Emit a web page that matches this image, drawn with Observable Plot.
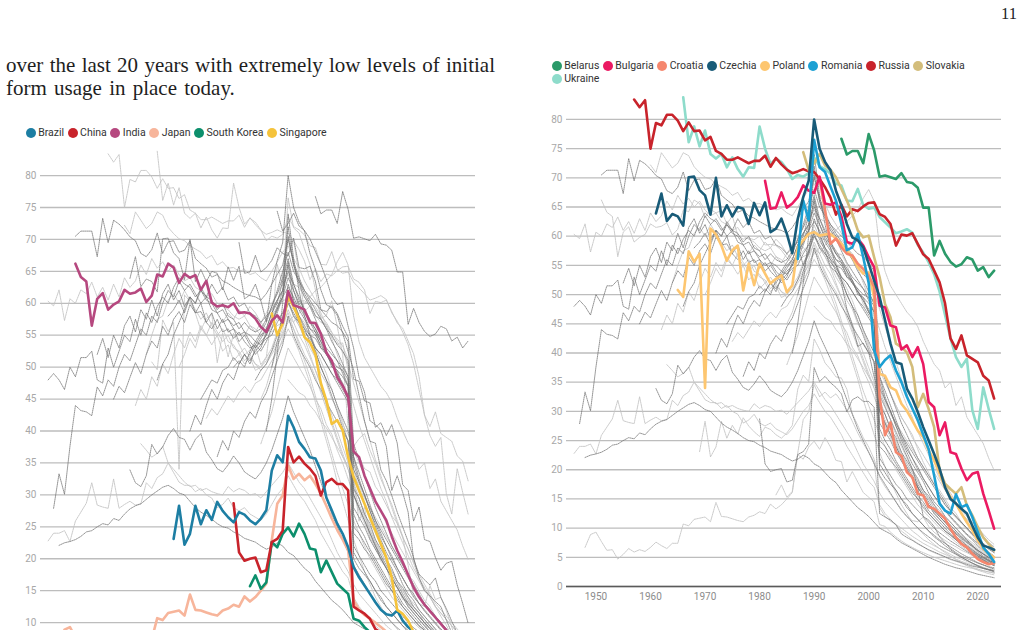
<!DOCTYPE html>
<html>
<head>
<meta charset="utf-8">
<script src="https://cdn.jsdelivr.net/npm/d3@7"></script>
<script src="https://cdn.jsdelivr.net/npm/@observablehq/plot@0.6"></script>
<style>
  html, body { margin: 0; padding: 0; background: #fff; width: 1027px; height: 630px; overflow: hidden; }
  #page { position: relative; width: 1027px; height: 630px; overflow: hidden; }
  .folio { position: absolute; left: 1001px; top: 6px; font-family: "Liberation Serif", serif; font-size: 16.5px; line-height: 16.5px; color: #222; }
  .para { position: absolute; left: 6px; top: 54px; width: 489px; font-family: "Liberation Serif", serif; font-size: 21px; line-height: 23px; color: #1e1e1e; }
  .para span { display: block; white-space: nowrap; }
  .para .j { text-align: justify; text-align-last: justify; white-space: normal; }
  .para .last { word-spacing: 2px; }
  .legend { position: absolute; display: flex; flex-wrap: wrap; font-family: Roboto, sans-serif; font-size: 10.5px; color: #333; }
  .legend .item { display: flex; align-items: center; height: 13.3px; margin-right: 3.5px; }
  .legend .dot { width: 10px; height: 10px; border-radius: 50%; margin-right: 2.5px; }
  .chart { position: absolute; }
  .chart svg { overflow: hidden; }
</style>
</head>
<body>
<div id="page">
  <div class="folio">11</div>
  <div class="para">
    <span class="j">over the last 20 years with extremely low levels of initial</span>
    <span class="last">form usage in place today.</span>
  </div>
  <div class="legend" id="legend-left" style="left:25.7px; top:126px; width:470px"></div>
  <div class="chart" id="chart-left" style="left:0; top:143px"></div>
  <div class="legend" id="legend-right" style="left:551.7px; top:59px; width:450px"></div>
  <div class="chart" id="chart-right" style="left:520px; top:88px"></div>
</div>
<script>
// ---- yearly shares (%) by country: first year + consecutive yearly values ----
const brazil     = { start: 1969, values: [23.1, 28.3, 22.2, 23.9, 28.3, 25.4, 27.6, 26.1, 28.9, 27.5, 26.5, 25.7, 27.3, 26.9, 26.0, 25.4, 26.3, 27.6, 33.8, 36.2, 35.1, 42.4, 40.6, 38.3, 37.2, 35.9, 35.7, 33.8, 29.6, 27.6, 25.5, 23.9, 21.8, 18.7, 17.1, 15.8, 14.5, 13.2, 12.0, 11.3, 11.1, 11.9, 10.3, 9.3, 8.6, 7.9, 7.3, 6.8, 6.2, 5.8, 5.3, 4.9, 4.5, 4.2, 3.9] };
const china      = { start: 1980, values: [28.7, 21.0, 19.7, 20.0, 20.2, 17.9, 18.2, 22.6, 23.1, 24.4, 37.5, 35.1, 36.0, 34.9, 34.1, 33.0, 29.9, 32.0, 32.5, 31.7, 31.7, 30.7, 12.5, 11.9, 11.4, 10.6, 9.0, 8.4, 7.9, 7.3, 6.8, 6.3, 5.9, 5.5, 5.1, 4.7, 4.4, 4.1, 3.8, 3.5, 3.3, 3.1, 2.9, 2.7] };
const india      = { start: 1951, values: [66.2, 64.1, 63.4, 56.5, 60.7, 61.6, 59.0, 59.8, 60.3, 62.1, 61.5, 61.7, 62.3, 60.2, 61.2, 64.5, 64.2, 66.2, 65.6, 63.2, 64.6, 64.0, 64.4, 62.1, 63.5, 60.1, 59.5, 59.7, 59.4, 60.0, 58.5, 58.6, 58.4, 57.6, 56.3, 55.5, 57.3, 58.1, 57.0, 61.9, 59.7, 59.4, 59.0, 57.0, 56.9, 55.2, 52.3, 51.0, 48.4, 47.1, 45.3, 36.8, 35.9, 33.0, 31.0, 29.0, 27.5, 26.0, 23.5, 21.3, 19.5, 17.5, 15.5, 14.0, 12.8, 11.8, 10.8, 9.8, 8.8, 7.5, 6.5, 5.5, 4.8] };
const japan      = { start: 1948, values: [6.7, 8.9, 9.3, 7.7, 6.2, 6.3, 4.7, 5.5, 6.5, 5.9, 6.3, 6.0, 6.7, 7.6, 7.0, 6.5, 7.4, 7.4, 10.7, 10.4, 11.5, 11.7, 11.9, 11.1, 14.4, 12.0, 11.9, 11.6, 11.3, 11.1, 11.9, 12.2, 12.8, 12.5, 14.1, 13.3, 14.0, 15.0, 16.1, 22.9, 28.6, 29.9, 34.6, 32.5, 33.3, 32.3, 33.0, 31.7, 30.2, 28.3, 26.3, 24.5, 23.0, 21.3, 13.5, 12.0, 11.2, 10.6, 10.0, 9.3, 8.6, 8.0, 7.4, 6.9, 6.4, 5.9, 5.5, 5.1, 4.7, 4.3, 4.0, 3.7, 3.4, 3.1, 2.9, 2.7] };
const southKorea = { start: 1983, values: [15.7, 17.4, 15.3, 16.3, 22.6, 21.8, 23.9, 24.9, 23.5, 25.5, 23.9, 21.6, 21.4, 17.9, 19.7, 17.9, 16.1, 15.3, 14.5, 10.6, 10.3, 9.3, 8.5, 7.8, 7.2, 6.7, 6.2, 5.8, 5.4, 5.0, 4.7, 4.4, 4.1, 3.8, 3.5, 3.3, 3.1, 2.9, 2.7, 2.5, 2.3] };
const singapore  = { start: 1987, values: [58.4, 55.0, 56.8, 61.0, 59.5, 57.5, 54.7, 53.9, 52.0, 47.5, 44.8, 41.1, 41.7, 40.1, 35.9, 32.8, 30.7, 28.6, 26.5, 24.4, 22.3, 20.2, 17.0, 12.0, 11.4, 10.3, 8.5, 7.5, 6.5, 5.8, 5.2, 4.8, 4.4, 4.0, 3.7, 3.4, 3.2] };

const belarus    = { start: 1995, values: [76.7, 74.0, 74.6, 74.6, 72.5, 77.5, 74.7, 70.2, 70.4, 70.1, 69.8, 70.8, 69.3, 69.1, 68.3, 64.9, 64.9, 56.7, 59.2, 57.0, 55.6, 54.8, 55.2, 56.4, 56.0, 54.1, 54.7, 53.0, 54.1] };
const bulgaria   = { start: 1981, values: [69.5, 64.7, 64.9, 67.5, 64.9, 65.6, 66.7, 68.7, 67.8, 67.4, 70.2, 65.6, 65.4, 65.8, 63.4, 59.0, 58.7, 59.6, 58.4, 56.4, 54.7, 48.1, 47.8, 44.7, 44.4, 40.6, 41.3, 39.3, 41.0, 38.1, 31.6, 30.7, 25.9, 28.1, 23.0, 22.7, 20.2, 18.2, 19.3, 19.6, 15.9, 13.0, 9.9] };
const croatia    = { start: 1991, values: [69.8, 64.5, 58.7, 59.6, 58.1, 57.0, 56.7, 55.3, 54.4, 53.3, 51.3, 32.5, 25.9, 28.1, 23.0, 22.4, 19.6, 18.7, 15.9, 15.6, 13.6, 13.3, 12.5, 11.6, 9.9, 8.4, 7.3, 6.7, 5.6, 4.7, 4.2, 3.8, 4.0] };
const czechia    = { start: 1961, values: [63.9, 67.3, 62.6, 63.8, 63.4, 61.8, 70.1, 70.2, 67.9, 67.0, 63.7, 70.0, 63.4, 65.3, 63.4, 65.0, 64.7, 62.1, 65.7, 63.6, 65.8, 60.7, 61.3, 63.0, 60.4, 57.1, 63.0, 66.7, 69.5, 80.0, 75.0, 72.7, 71.3, 67.8, 65.3, 62.1, 59.8, 59.3, 58.1, 55.3, 52.4, 49.6, 45.6, 41.6, 38.4, 38.1, 33.9, 32.2, 29.9, 27.3, 25.0, 22.7, 20.2, 17.0, 15.0, 14.2, 13.3, 12.5, 10.4, 8.4, 7.0, 6.7, 6.3] };
const poland     = { start: 1965, values: [50.8, 49.6, 57.4, 55.6, 57.0, 34.0, 61.3, 60.3, 58.4, 55.8, 57.6, 58.4, 50.7, 55.3, 51.6, 55.3, 53.6, 51.9, 52.7, 53.3, 50.4, 51.6, 58.1, 59.3, 60.4, 60.7, 60.1, 60.3, 60.4, 59.6, 58.7, 57.6, 56.4, 54.7, 53.6, 53.8, 49.5, 36.4, 36.1, 34.1, 33.6, 31.3, 30.1, 28.4, 26.7, 25.6, 23.3, 21.6, 19.3, 17.0, 15.3, 14.2, 12.5, 11.0, 9.6, 7.9, 6.5, 5.6, 5.0] };
const romania    = { start: 1987, values: [56.1, 66.1, 62.7, 76.5, 71.8, 71.0, 68.5, 66.1, 62.1, 57.6, 58.1, 60.4, 56.4, 52.0, 40.5, 37.6, 38.8, 39.6, 37.0, 35.0, 32.5, 30.5, 28.5, 26.0, 23.5, 19.0, 14.2, 13.0, 12.5, 15.8, 13.6, 14.0, 11.9, 9.3, 6.7, 5.6, 4.2] };
const russia     = { start: 1957, values: [83.4, 82.1, 83.3, 75.0, 79.4, 79.0, 80.8, 80.8, 79.8, 78.0, 79.5, 78.0, 78.1, 76.4, 77.0, 74.6, 74.1, 73.1, 73.1, 73.5, 73.0, 72.5, 72.9, 72.9, 73.8, 71.9, 73.4, 72.3, 71.4, 70.8, 71.1, 71.5, 71.1, 71.0, 69.8, 68.4, 66.6, 63.7, 65.4, 63.4, 64.6, 64.3, 65.1, 65.7, 65.8, 63.8, 63.3, 62.1, 58.4, 60.3, 60.1, 60.5, 58.7, 56.9, 56.1, 54.1, 52.1, 48.5, 42.5, 40.7, 43.0, 39.6, 39.0, 38.4, 36.1, 35.3, 32.2] };
const slovakia   = { start: 1988, values: [74.4, 71.3, 72.5, 74.1, 72.1, 71.4, 70.1, 68.1, 66.1, 63.8, 61.0, 59.8, 60.1, 56.4, 53.0, 48.4, 46.1, 41.6, 41.0, 40.1, 37.6, 30.7, 33.0, 30.4, 27.3, 19.9, 17.6, 16.7, 15.9, 17.0, 13.9, 12.2, 10.2, 8.4, 7.3, 6.2] };
const ukraine    = { start: 1966, values: [83.8, 76.1, 78.8, 75.4, 78.1, 74.1, 73.3, 74.1, 71.8, 73.5, 71.5, 70.2, 71.8, 71.7, 78.8, 75.0, 72.4, 73.3, 72.7, 71.5, 69.8, 70.5, 70.2, 70.8, 73.5, 72.0, 71.5, 70.7, 69.0, 68.7, 66.1, 66.0, 68.1, 65.3, 64.7, 64.9, 63.3, 62.4, 61.5, 60.5, 60.8, 61.2, 60.6, 58.5, 57.2, 55.5, 53.5, 50.5, 46.5, 42.5, 39.3, 37.6, 39.0, 30.2, 27.0, 34.1, 30.4, 27.0] };

// remaining countries, drawn only as grey context
const grey01 = { start: 1946, values: [60.3, 59.6, 62.1, 57.3, 60.7, 60.0, 62.1, 61.5, 63.3, 61.0, 62.5, 60.5, 63.0, 61.0, 64.0, 62.5, 63.5, 66.0, 64.5, 67.0, 65.5, 66.5, 65.0, 66.0, 64.5, 63.5, 64.0, 62.5, 62.0, 61.0, 61.5, 60.0, 59.5, 59.0, 58.0, 57.5, 58.0, 56.5, 56.0, 55.0, 55.5, 56.0, 57.5, 58.5, 60.0, 59.0, 58.0, 57.0, 55.5, 53.0, 51.0, 49.0, 46.5, 44.0, 41.5, 38.0, 34.0, 31.0, 28.5, 26.0, 24.0, 22.0, 20.0, 18.0, 16.5, 15.0, 13.5, 12.0, 11.0, 10.0, 9.0, 8.0, 7.2, 6.5, 5.8, 5.0, 4.5, 4.0] };
const grey02 = { start: 1946, values: [48.0, 49.0, 48.0, 46.5, 50.0, 48.5, 51.5, 51.5, 52.5, 48.0, 47.5, 53.0, 50.0, 52.5, 55.0, 54.0, 57.5, 55.0, 58.5, 57.0, 59.5, 61.0, 60.0, 62.5, 64.0, 63.0, 62.5, 61.0, 62.0, 60.5, 60.0, 58.5, 59.0, 57.5, 56.5, 57.0, 55.5, 55.0, 54.0, 53.5, 54.5, 55.0, 57.0, 58.5, 60.5, 58.0, 57.0, 55.5, 54.5, 53.0, 52.0, 50.5, 49.0, 47.5, 46.0, 44.5, 30.0, 28.0, 26.0, 24.0, 22.0, 20.5, 19.0, 17.5, 16.0, 14.5, 13.0, 12.0, 11.0, 10.0, 9.0, 8.2, 7.5, 6.8, 6.0, 5.2, 4.6, 4.0] };
const grey03 = { start: 1947, values: [27.9, 33.3, 30.1, 37.6, 44.0, 43.2, 43.0, 42.4, 46.9, 45.5, 48.0, 47.0, 50.0, 52.0, 51.0, 53.5, 56.0, 55.0, 58.0, 57.0, 60.0, 62.0, 61.0, 63.5, 62.0, 63.0, 61.5, 60.0, 61.0, 59.0, 58.5, 57.0, 57.5, 56.0, 55.0, 55.5, 54.0, 53.0, 54.0, 55.0, 57.0, 59.0, 62.0, 66.0, 60.0, 58.0, 56.0, 54.0, 52.5, 50.0, 48.0, 46.5, 44.0, 42.0, 40.0, 36.0, 32.5, 30.0, 27.5, 25.0, 23.0, 21.0, 19.5, 18.0, 16.0, 14.5, 13.5, 12.0, 11.0, 10.0, 9.0, 8.0, 7.0, 6.2, 5.5, 4.8, 4.2] };
const grey04 = { start: 1948, values: [22.1, 22.5, 22.7, 23.0, 23.5, 24.2, 24.4, 25.0, 25.5, 25.3, 26.3, 26.0, 27.0, 27.8, 28.3, 28.6, 29.3, 30.0, 30.6, 31.2, 31.5, 31.0, 30.3, 30.0, 29.0, 28.0, 27.3, 26.8, 26.2, 25.5, 25.0, 24.8, 24.2, 23.8, 23.2, 22.9, 22.6, 22.0, 21.5, 21.8, 22.5, 22.0, 21.0, 20.5, 19.5, 18.5, 17.8, 16.5, 15.5, 14.5, 13.5, 12.8, 12.0, 11.0, 10.0, 9.5, 9.0, 8.2, 7.5, 7.0, 6.5, 6.0, 5.5, 5.0, 4.6, 4.2, 3.8, 3.5, 3.2, 3.0, 2.7, 2.4, 2.1, 1.9, 1.7, 1.5] };
const grey05 = { start: 1946, values: [22.8, 24.0, 24.0, 24.4, 22.7, 25.9, 27.3, 28.7, 31.9, 28.4, 28.1, 27.9, 32.5, 27.9, 28.5, 29.0, 28.4, 28.6, 31.9, 31.0, 32.7, 33.3, 35.0, 33.5, 32.0, 31.5, 31.5, 30.5, 31.0, 30.0, 29.5, 28.0, 28.5, 29.5, 28.0, 27.5, 28.0, 27.0, 26.5, 26.0, 27.0, 28.5, 30.0, 31.0, 33.0, 31.5, 30.0, 29.0, 27.5, 26.0, 24.0, 22.5, 21.0, 19.5, 18.0, 17.0, 14.0, 12.5, 11.5, 10.5, 9.5, 8.8, 8.0, 7.4, 6.8, 6.2, 5.8, 5.4, 5.0, 4.6, 4.3, 4.0, 3.6, 3.3, 3.0, 2.7, 2.5, 2.3] };
const grey06 = { start: 1951, values: [70.5, 71.3, 71.3, 71.3, 67.3, 73.3, 69.5, 73.0, 72.4, 71.5, 70.4, 69.8, 67.8, 67.3, 68.4, 71.0, 67.8, 69.6, 69.8, 68.0, 68.3, 69.8, 67.0, 66.2, 65.5, 64.1, 64.5, 63.5, 63.1, 62.5, 62.0, 61.5, 61.2, 61.0, 60.5, 61.5, 63.0, 64.5, 66.0, 70.0, 66.5, 64.0, 62.0, 60.5, 59.0, 57.5, 56.0, 54.0, 52.5, 50.5, 48.5, 36.0, 33.5, 31.0, 28.5, 26.0, 24.0, 22.0, 20.5, 18.5, 17.0, 15.5, 14.0, 13.0, 11.8, 10.8, 9.8, 8.8, 8.0, 7.0, 6.2, 5.5, 5.0] };
const grey07 = { start: 1960, values: [72.2, 70.9, 74.3, 73.0, 71.7, 72.5, 74.3, 73.8, 71.9, 70.9, 70.1, 69.8, 69.0, 68.5, 68.0, 67.0, 67.5, 66.0, 66.5, 65.5, 65.6, 65.0, 65.3, 64.5, 64.8, 64.0, 63.5, 65.0, 66.5, 68.0, 69.0, 67.0, 65.5, 63.5, 62.0, 60.5, 58.5, 56.5, 54.5, 52.0, 49.5, 47.0, 44.0, 41.0, 38.5, 36.0, 33.5, 31.0, 29.0, 26.5, 24.5, 22.5, 20.5, 18.5, 17.0, 15.5, 14.0, 12.5, 11.5, 10.5, 9.5, 8.5, 7.5, 6.8] };
const grey08 = { start: 1961, values: [33.9, 31.9, 31.3, 33.0, 37.9, 36.4, 37.5, 39.3, 40.4, 39.0, 38.7, 37.0, 38.7, 39.6, 36.7, 35.5, 34.1, 33.6, 34.7, 36.1, 35.0, 33.6, 33.0, 32.5, 33.5, 35.0, 37.0, 39.5, 42.0, 45.5, 43.0, 41.0, 39.0, 37.0, 34.5, 32.0, 29.5, 27.0, 25.0, 23.0, 21.0, 19.0, 17.5, 16.0, 14.5, 13.0, 12.0, 11.0, 10.0, 9.2, 8.5, 7.8, 7.0, 6.5, 6.0, 5.5, 5.0, 4.5, 4.0, 3.6, 3.2, 2.9, 2.6] };
const grey09 = { start: 1963, values: [38.0, 37.0, 35.9, 36.5, 37.6, 35.0, 34.0, 33.0, 32.0, 31.3, 31.5, 30.7, 31.0, 30.5, 30.2, 30.0, 31.3, 30.5, 31.0, 30.7, 30.0, 30.2, 29.5, 30.5, 31.5, 32.5, 33.5, 35.0, 33.5, 32.0, 31.0, 29.5, 28.0, 26.5, 25.0, 23.0, 21.0, 19.5, 18.0, 16.0, 14.5, 13.5, 12.5, 11.5, 10.5, 9.5, 8.8, 8.0, 7.5, 7.0, 6.5, 6.0, 5.5, 5.0, 4.7, 4.3, 4.0, 3.6, 3.3, 3.0, 2.8] };
const grey10 = { start: 1958, values: [45.0, 47.0, 46.0, 48.4, 50.7, 49.0, 52.0, 54.1, 53.0, 56.4, 55.0, 57.5, 58.7, 57.0, 59.8, 58.5, 58.7, 57.0, 56.0, 57.5, 55.5, 56.0, 54.5, 55.5, 54.0, 53.0, 53.5, 52.5, 54.0, 56.0, 58.5, 61.0, 64.0, 62.0, 60.0, 58.5, 57.0, 55.5, 54.0, 52.0, 50.5, 49.0, 47.5, 45.0, 25.0, 24.0, 22.5, 21.0, 19.5, 18.0, 16.5, 15.0, 14.0, 12.5, 11.5, 10.5, 9.5, 8.8, 8.0, 7.2, 6.5, 5.8, 5.2, 4.6, 4.0, 3.6] };
const grey11 = { start: 1964, values: [52.0, 55.0, 57.5, 58.0, 60.5, 61.5, 60.0, 62.0, 60.5, 59.0, 57.5, 58.5, 56.5, 55.0, 56.0, 54.0, 53.5, 52.0, 53.0, 51.5, 50.5, 50.0, 51.0, 52.5, 54.0, 56.0, 59.0, 57.0, 55.0, 53.5, 51.5, 49.5, 47.5, 45.0, 42.5, 40.0, 37.5, 35.0, 32.0, 29.5, 27.0, 24.5, 22.5, 20.5, 18.5, 17.0, 15.5, 14.0, 12.8, 11.5, 10.5, 9.5, 8.6, 7.8, 7.0, 6.3, 5.6, 5.0, 4.4, 3.9] };
const grey12 = { start: 1966, values: [48.0, 50.5, 52.0, 55.0, 57.0, 59.0, 61.0, 60.0, 62.5, 61.0, 60.5, 59.0, 60.0, 58.0, 57.5, 56.0, 57.0, 56.0, 55.5, 56.0, 57.5, 59.5, 61.5, 64.0, 72.0, 66.0, 63.0, 61.0, 59.5, 57.5, 55.5, 54.0, 52.5, 51.0, 49.0, 47.0, 28.0, 26.5, 25.0, 23.0, 21.5, 20.0, 18.5, 17.0, 15.5, 14.0, 13.0, 12.0, 11.0, 10.0, 9.2, 8.4, 7.6, 6.9, 6.2, 5.6, 5.0, 4.5] };
const grey13 = { start: 1970, values: [50.0, 52.0, 54.5, 53.0, 56.0, 55.0, 57.0, 55.5, 54.0, 55.0, 53.0, 52.5, 51.0, 52.0, 50.5, 49.5, 50.5, 52.0, 53.5, 55.0, 57.5, 56.0, 54.0, 52.0, 50.5, 48.5, 46.0, 43.5, 41.0, 38.5, 36.0, 34.0, 31.5, 29.5, 27.0, 25.0, 23.0, 21.0, 19.5, 18.0, 16.5, 15.0, 14.0, 13.0, 12.0, 11.0, 10.0, 9.0, 8.2, 7.5, 6.8, 6.0, 5.4, 4.8] };
const grey14 = { start: 1974, values: [45.0, 46.5, 48.0, 47.5, 49.5, 50.0, 51.5, 50.5, 52.0, 51.0, 52.5, 53.5, 55.0, 57.0, 59.0, 61.0, 62.5, 61.0, 59.0, 57.5, 56.0, 55.0, 53.5, 52.0, 50.5, 49.5, 48.5, 47.0, 22.0, 20.5, 19.0, 17.5, 16.5, 15.0, 14.0, 13.0, 12.0, 11.0, 10.0, 9.2, 8.5, 7.8, 7.2, 6.6, 6.0, 5.5, 5.0, 4.5, 4.0, 3.6] };
const grey15 = { start: 1980, values: [50.0, 51.0, 50.0, 52.5, 54.0, 55.5, 57.0, 59.5, 62.0, 65.0, 68.0, 65.0, 63.5, 62.0, 61.0, 60.0, 59.0, 58.0, 57.0, 56.5, 55.5, 54.0, 38.0, 35.5, 33.0, 30.5, 28.0, 26.0, 24.0, 22.0, 20.5, 19.0, 17.5, 16.0, 14.5, 13.0, 12.0, 11.0, 10.0, 9.0, 8.0, 7.2, 6.4, 5.8] };
const grey16 = { start: 1985, values: [45.0, 47.0, 50.0, 53.0, 55.5, 57.0, 58.0, 56.5, 54.5, 52.0, 49.5, 47.0, 44.0, 41.5, 39.0, 36.5, 34.0, 31.0, 28.5, 26.5, 24.5, 22.5, 21.0, 19.5, 18.0, 16.5, 15.0, 13.5, 12.5, 11.5, 10.5, 9.5, 8.7, 8.0, 7.2, 6.5, 5.8, 5.2, 4.6] };
const grey17 = { start: 1986, values: [40.0, 45.0, 52.0, 60.0, 74.0, 67.0, 62.0, 58.0, 55.0, 52.5, 50.0, 48.0, 45.5, 43.0, 40.5, 38.5, 30.0, 28.0, 26.0, 24.0, 22.0, 20.0, 18.5, 17.0, 15.5, 14.0, 12.5, 11.5, 10.5, 9.5, 8.5, 7.8, 7.0, 6.3, 5.6, 5.0, 4.4, 3.9] };
const grey18 = { start: 1982, values: [55.0, 56.5, 55.5, 57.0, 58.5, 60.0, 61.5, 63.0, 64.5, 63.0, 62.5, 61.0, 60.0, 59.5, 58.0, 57.0, 55.5, 54.0, 52.5, 50.5, 47.5, 44.5, 41.5, 38.5, 35.5, 33.0, 30.5, 28.0, 25.5, 23.5, 21.5, 19.5, 17.5, 16.0, 14.5, 13.0, 12.0, 11.0, 10.0, 9.0, 8.0, 7.2] };
const grey19 = { start: 1988, values: [52.0, 54.5, 58.0, 57.0, 58.5, 60.0, 61.0, 62.0, 62.5, 63.5, 64.5, 66.5, 68.0, 66.0, 58.0, 54.0, 51.5, 50.0, 48.5, 47.0, 46.0, 44.5, 42.0, 40.0, 38.1, 37.0, 34.0, 35.0, 31.0, 32.5, 29.0, 27.5, 26.0, 24.5, 22.0, 19.9] };
const grey20 = { start: 1984, values: [48.0, 49.5, 50.5, 52.5, 55.0, 57.5, 60.0, 58.5, 57.0, 56.0, 55.0, 54.5, 53.0, 52.0, 51.0, 50.0, 49.5, 48.0, 20.0, 18.5, 17.5, 16.5, 15.0, 14.0, 12.5, 11.5, 10.5, 9.5, 8.8, 8.0, 7.4, 6.8, 6.2, 5.6, 5.1, 4.6, 4.1, 3.7, 3.3, 3.0] };
const grey21 = { start: 1975, values: [42.0, 43.5, 42.5, 44.0, 45.5, 44.5, 46.0, 47.0, 46.0, 47.5, 48.0, 49.5, 51.0, 52.5, 54.0, 56.0, 54.5, 52.5, 50.0, 47.5, 44.5, 41.5, 38.5, 35.5, 32.0, 29.0, 26.0, 23.0, 20.5, 18.0, 16.0, 14.0, 12.5, 11.0, 10.0, 9.0, 8.0, 7.2, 6.5, 5.8, 5.2, 4.6, 4.1, 3.6, 3.2, 2.8, 2.5, 2.2, 2.0] };
const grey22 = { start: 1968, values: [58.0, 59.0, 60.5, 58.5, 61.0, 60.0, 62.0, 61.0, 63.0, 61.5, 62.5, 60.5, 61.0, 59.5, 60.0, 58.5, 58.0, 57.0, 58.0, 59.0, 60.5, 62.0, 65.0, 63.0, 61.0, 59.0, 57.5, 56.0, 54.0, 52.5, 50.5, 49.0, 47.0, 45.5, 34.0, 32.0, 30.0, 28.0, 26.0, 24.5, 23.0, 21.5, 20.0, 18.5, 17.0, 15.5, 14.0, 13.0, 12.0, 11.0, 10.0, 9.0, 8.2, 7.4, 6.6, 6.0] };
const grey23 = { start: 1978, values: [57.0, 58.5, 57.5, 59.0, 58.0, 59.5, 58.5, 57.0, 56.0, 55.5, 56.5, 57.0, 58.5, 56.0, 53.5, 51.0, 48.5, 45.5, 42.5, 39.5, 36.5, 33.5, 31.0, 28.5, 26.0, 24.0, 22.0, 20.0, 18.5, 17.0, 15.5, 14.0, 13.0, 12.0, 11.0, 10.0, 9.2, 8.4, 7.6, 6.9, 6.2, 5.6, 5.0, 4.5, 4.0, 3.6] };
const grey24 = { start: 1955, values: [52.0, 54.5, 51.5, 55.0, 53.0, 56.5, 58.0, 55.5, 59.0, 57.5, 60.5, 58.0, 61.5, 63.0, 60.5, 62.0, 59.5, 61.0, 58.5, 60.0, 57.0, 58.5, 56.0, 57.5, 55.5, 56.0, 54.0, 55.0, 53.5, 52.0, 53.0, 55.5, 57.0, 59.5, 61.0, 66.5, 62.0, 59.5, 58.0, 56.0, 55.5, 53.0, 52.5, 50.0, 49.5, 47.0, 45.5, 31.0, 29.5, 27.0, 25.5, 23.0, 21.5, 20.0, 18.5, 16.5, 15.5, 14.0, 12.5, 11.5, 10.5, 9.5, 8.5, 7.8, 7.0, 6.2, 5.6, 5.0, 4.4] };
const grey25 = { start: 1962, values: [44.0, 46.5, 45.0, 48.5, 47.0, 50.5, 49.0, 52.0, 54.5, 53.0, 55.5, 54.0, 56.5, 55.0, 53.5, 55.0, 52.5, 53.5, 51.0, 52.0, 50.5, 51.5, 49.5, 50.0, 51.5, 53.0, 55.5, 57.0, 60.0, 58.0, 56.5, 55.0, 53.0, 51.5, 49.0, 47.5, 45.0, 43.5, 41.0, 39.5, 37.0, 35.0, 33.0, 31.0, 29.0, 27.5, 25.5, 24.0, 22.5, 21.0, 19.5, 18.0, 16.5, 15.0, 14.0, 12.5, 11.5, 10.5, 9.5, 8.5, 7.5, 6.8] };
const grey26 = { start: 1972, values: [40.0, 42.5, 41.0, 44.0, 46.5, 45.0, 47.5, 49.0, 48.0, 50.5, 52.0, 50.5, 53.0, 54.5, 56.0, 58.5, 60.0, 63.5, 67.0, 63.0, 60.5, 59.0, 57.0, 56.0, 54.5, 53.0, 52.0, 51.0, 50.0, 48.5, 24.0, 23.0, 21.5, 20.5, 19.0, 17.5, 16.0, 15.0, 13.5, 12.5, 11.5, 10.5, 9.5, 8.8, 8.0, 7.2, 6.5, 5.9, 5.3, 4.8, 4.3, 3.8] };
const grey27 = { start: 1985, values: [38.0, 40.5, 43.0, 46.5, 50.0, 53.0, 51.5, 50.0, 48.5, 47.0, 45.0, 43.5, 41.0, 39.5, 37.0, 35.0, 32.5, 30.0, 27.5, 25.5, 23.5, 21.5, 20.0, 18.5, 17.0, 15.5, 14.0, 12.5, 11.5, 10.5, 9.5, 8.5, 7.5, 6.7, 6.0, 5.3, 4.7, 4.1, 3.6] };
const grey28 = { start: 1983, values: [52.0, 53.5, 55.0, 56.0, 58.5, 60.5, 62.0, 70.5, 66.0, 63.5, 61.5, 60.0, 58.0, 57.5, 56.0, 55.0, 53.5, 52.5, 51.0, 35.0, 32.0, 30.0, 27.5, 25.5, 23.5, 22.0, 20.0, 18.5, 17.0, 15.5, 14.5, 13.0, 12.0, 11.0, 10.0, 9.0, 8.2, 7.4, 6.6, 5.9, 5.2] };
const grey29 = { start: 1987, values: [50.0, 54.0, 57.5, 63.0, 60.5, 58.0, 56.5, 55.0, 53.0, 52.0, 50.5, 49.0, 48.0, 46.5, 45.0, 27.0, 25.0, 23.5, 21.5, 20.0, 18.5, 17.0, 15.5, 14.5, 13.0, 12.0, 11.0, 10.0, 9.0, 8.2, 7.5, 6.8, 6.1, 5.5, 5.0, 4.5, 4.0] };
const grey30 = { start: 1990, values: [48.0, 47.0, 46.0, 45.5, 44.0, 43.0, 41.5, 40.5, 39.0, 37.5, 36.0, 34.5, 33.0, 31.5, 29.5, 28.0, 26.5, 25.0, 23.5, 22.0, 20.5, 19.0, 17.5, 16.5, 15.0, 13.5, 12.5, 11.0, 10.0, 9.0, 8.0, 7.2, 6.5, 5.8] };
const grey31 = { start: 1977, values: [36.0, 38.5, 37.0, 40.0, 39.0, 41.5, 43.0, 42.0, 44.5, 46.0, 48.5, 51.0, 53.5, 58.0, 55.0, 53.0, 51.5, 50.0, 48.0, 46.5, 44.5, 43.0, 41.5, 40.0, 38.5, 21.0, 19.5, 18.0, 16.5, 15.0, 13.5, 12.5, 11.5, 10.5, 9.5, 8.5, 7.8, 7.0, 6.3, 5.6, 5.0, 4.5, 4.0, 3.5, 3.1, 2.8, 2.5] };

// axis ticks
const yTicks = d3.range(0, 81, 5);
const xTicks = d3.range(1950, 2021, 10);

// ---- registry, colours and grouping ----
const named = {
  "Brazil": brazil, "China": china, "India": india, "Japan": japan, "South Korea": southKorea, "Singapore": singapore,
  "Belarus": belarus, "Bulgaria": bulgaria, "Croatia": croatia, "Czechia": czechia, "Poland": poland,
  "Romania": romania, "Russia": russia, "Slovakia": slovakia, "Ukraine": ukraine
};
const context = { grey01, grey02, grey03, grey04, grey05, grey06, grey07, grey08, grey09, grey10, grey11, grey12,
  grey13, grey14, grey15, grey16, grey17, grey18, grey19, grey20, grey21, grey22, grey23, grey24, grey25, grey26,
  grey27, grey28, grey29, grey30, grey31 };
const allSeries = { ...named, ...context };

const colors = {
  "Brazil": "#1d7ea3", "China": "#c8232b", "India": "#b6487f", "Japan": "#f7b59b", "South Korea": "#0c8f6c", "Singapore": "#f5c33b",
  "Belarus": "#2b9a69", "Bulgaria": "#eb1a62", "Croatia": "#f5876e", "Czechia": "#185b78", "Poland": "#fdc670",
  "Romania": "#1ca0d3", "Russia": "#c8232b", "Slovakia": "#d3bd7b", "Ukraine": "#8edccb"
};
// series drawn in the paler grey when not highlighted
const paleGrey = new Set(["Russia", "Ukraine", "India", "Japan", "Brazil", "South Korea", "Croatia", "Romania", "Poland",
  "grey01", "grey05", "grey07", "grey09", "grey11", "grey13", "grey16", "grey18", "grey19", "grey21", "grey23",
  "grey25", "grey27", "grey30"]);

const leftLegend  = ["Brazil", "China", "India", "Japan", "South Korea", "Singapore"];
const leftOrder   = ["Japan", "South Korea", "China", "Brazil", "Singapore", "India"];
const rightLegend = ["Belarus", "Bulgaria", "Croatia", "Czechia", "Poland", "Romania", "Russia", "Slovakia", "Ukraine"];
const rightOrder  = ["Ukraine", "Russia", "Belarus", "Poland", "Croatia", "Slovakia", "Bulgaria", "Romania", "Czechia"];

function rows(name) {
  const s = allSeries[name];
  return s.values.map((value, i) => ({ name, year: s.start + i, value }));
}

function legend(el, names) {
  for (const n of names) {
    const item = document.createElement("div");
    item.className = "item";
    item.innerHTML = `<span class="dot" style="background:${colors[n]}"></span><span>${n}</span>`;
    el.appendChild(item);
  }
}

function chart(el, frame, highlighted, opts) {
  const hi = new Set(highlighted);
  const greys = Object.keys(allSeries).filter(n => !hi.has(n));
  const pale = greys.filter(n => paleGrey.has(n)).flatMap(rows);
  const dark = greys.filter(n => !paleGrey.has(n)).flatMap(rows);
  const marks = [
    Plot.ruleY(yTicks, { stroke: "#bdbdbd", strokeWidth: 1.3 }),
    Plot.line(pale, { x: "year", y: "value", z: "name", stroke: "#c2c2c2", strokeWidth: 0.85, strokeDasharray: "1.6,0.9" }),
    Plot.line(dark, { x: "year", y: "value", z: "name", stroke: "#707070", strokeWidth: 0.75, strokeDasharray: "1,1" }),
    Plot.ruleY([0], { stroke: "#5a5a5a", strokeWidth: 1.5 }),
    Plot.axisY({ ticks: opts.labelTicks, tickSize: 0, tickPadding: 4, label: null })
  ];
  if (opts.xAxis) {
    marks.push(Plot.axisX({ ticks: xTicks, tickSize: 0, tickPadding: 6, label: null, tickFormat: d3.format("d"), fill: "#8c8c8c" }));
  }
  for (const n of highlighted) {
    marks.push(Plot.line(rows(n), { x: "year", y: "value", stroke: colors[n], strokeWidth: 2.6, strokeLinejoin: "round" }));
  }
  const svg = Plot.plot({
    ...frame,
    x: { domain: [1944.6, 2024.35], axis: opts.xAxis ? undefined : null },
    y: { domain: [0, 84], range: opts.yRange },
    style: { fontFamily: "Roboto, sans-serif", fontSize: "10px", color: "#a8a8a8", background: "transparent" },
    marks
  });
  el.appendChild(svg);
}

legend(document.getElementById("legend-left"), leftLegend);
legend(document.getElementById("legend-right"), rightLegend);

// the left panel runs past the bottom of the page; only its upper part is shown
chart(document.getElementById("chart-left"),
  { width: 500, height: 487, marginLeft: 40, marginRight: 25, marginTop: 6.5, marginBottom: 0 }, leftOrder,
  { yRange: [543, 6.5], labelTicks: yTicks.filter(v => v >= 10), xAxis: false });
chart(document.getElementById("chart-right"),
  { width: 500, height: 530, marginLeft: 46, marginRight: 19, marginTop: 7.6, marginBottom: 32 }, rightOrder,
  { yRange: [498, 7.6], labelTicks: yTicks, xAxis: true });
</script>
</body>
</html>
